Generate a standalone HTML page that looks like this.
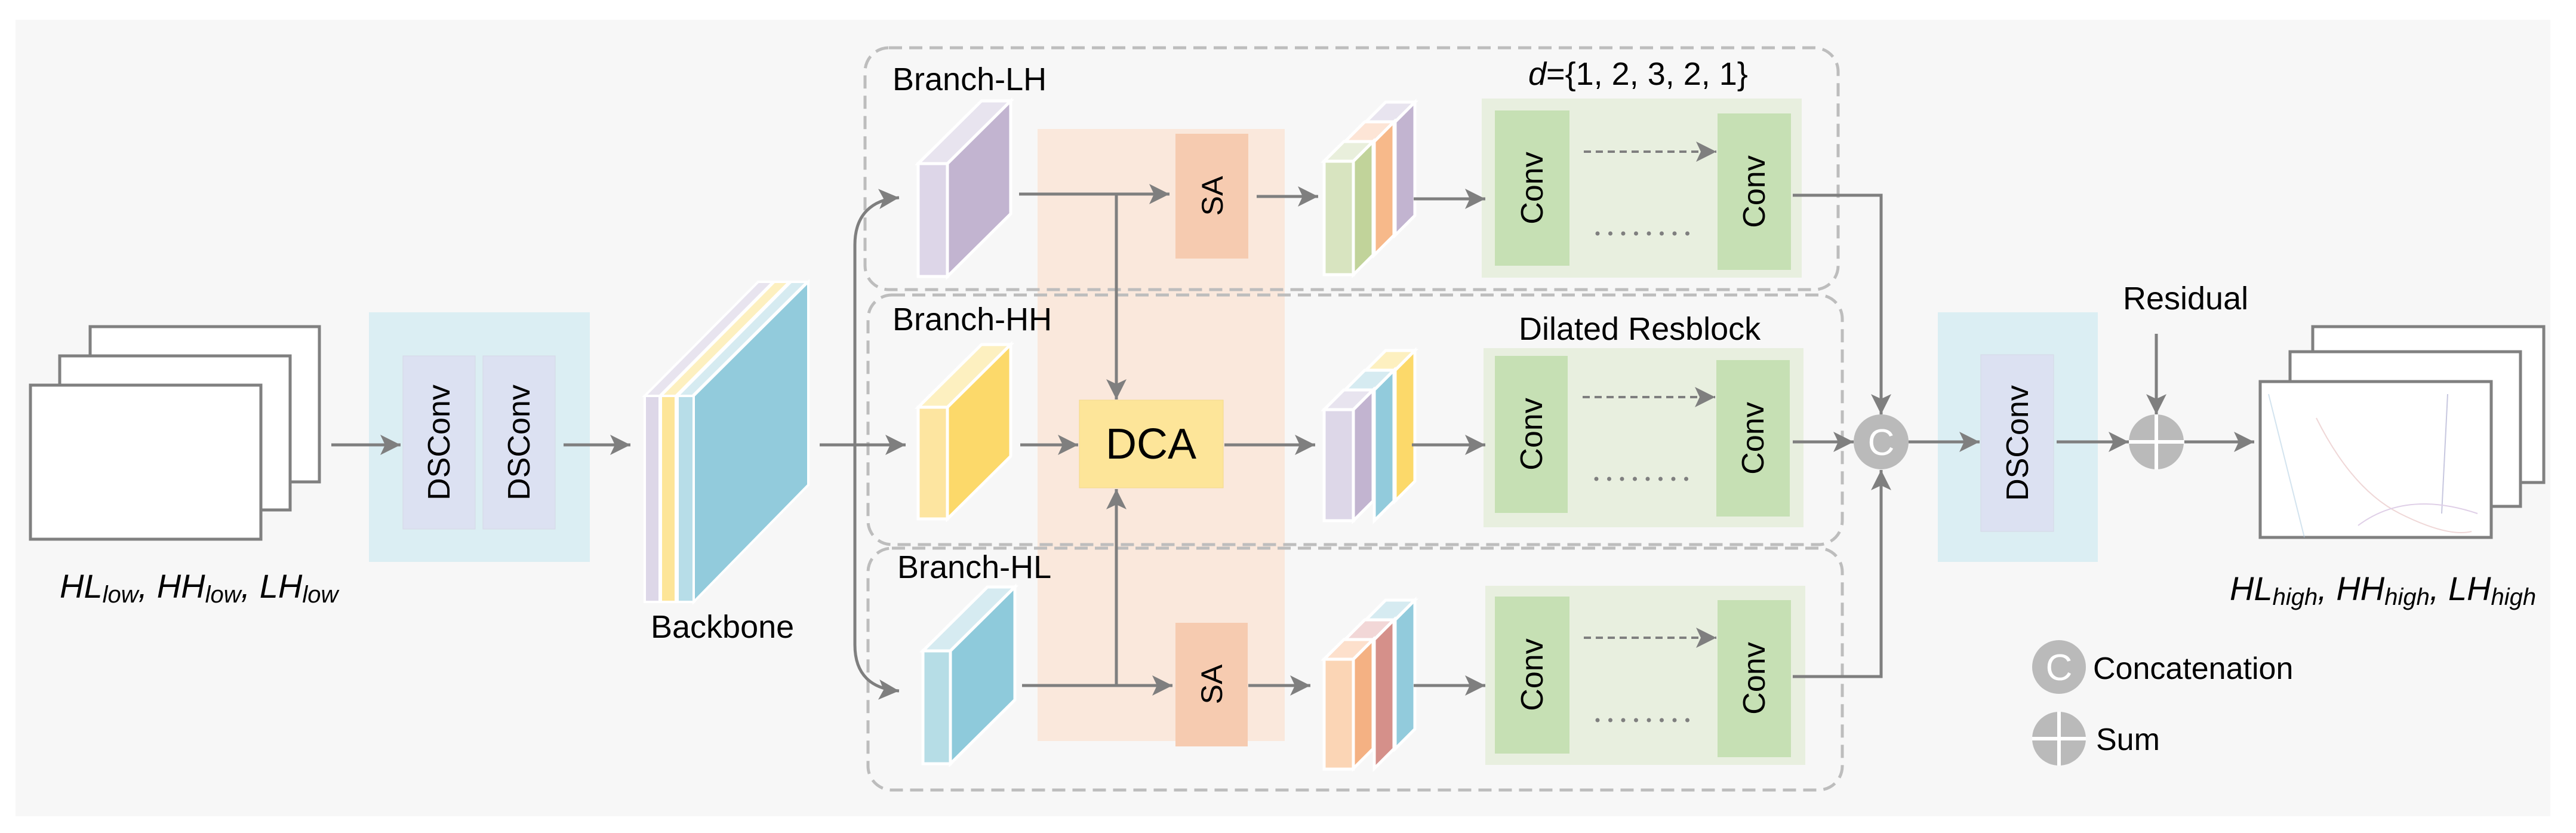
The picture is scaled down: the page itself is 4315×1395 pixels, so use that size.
<!DOCTYPE html>
<html><head><meta charset="utf-8"><style>
html,body{margin:0;padding:0;background:#fff;}
svg{display:block;}
text{font-family:"Liberation Sans",sans-serif;fill:#000;}
</style></head><body>
<svg width="4315" height="1395" viewBox="0 0 4315 1395" xmlns="http://www.w3.org/2000/svg">
<defs>
<marker id="ah" markerUnits="userSpaceOnUse" markerWidth="40" markerHeight="40" refX="34" refY="18" orient="auto">
<path d="M34,18 L0,1 L8,18 L0,35 Z" fill="#7f7f7f"/>
</marker>
</defs>
<rect x="26" y="33" width="4246" height="1334" fill="#f7f7f7"/>

<!-- input stack -->
<g fill="#fff" stroke="#808080" stroke-width="5">
<rect x="151" y="547" width="384" height="260"/>
<rect x="100" y="596" width="386" height="258"/>
<rect x="51" y="645" width="386" height="258"/>
</g>
<text x="100" y="1001" font-size="56" font-style="italic">HL<tspan font-size="40" dy="8">low</tspan><tspan dy="-8">, HH</tspan><tspan font-size="40" dy="8">low</tspan><tspan dy="-8">, LH</tspan><tspan font-size="40" dy="8">low</tspan></text>

<!-- DSConv block 1 -->
<rect x="618" y="523" width="370" height="418" fill="#dbeef3"/>
<rect x="675" y="596" width="121" height="290" fill="#dce1f2" stroke="#d4d8e6" stroke-width="1"/>
<rect x="809" y="596" width="121" height="290" fill="#dce1f2" stroke="#d4d8e6" stroke-width="1"/>
<text transform="translate(753,741) rotate(-90)" font-size="52" text-anchor="middle">DSConv</text>
<text transform="translate(887,741) rotate(-90)" font-size="52" text-anchor="middle">DSConv</text>

<!-- Backbone -->
<g stroke="#fff" stroke-width="4">
<polygon points="1080,663 1105,663 1295,472 1270,472" fill="#e8e4ef"/>
<polygon points="1107,663 1132,663 1322,472 1297,472" fill="#fdf0c0"/>
<polygon points="1135,663 1160,663 1352,472 1325,472" fill="#d6ebf1"/>
<rect x="1080" y="663" width="25" height="345" fill="#ddd7e8"/>
<rect x="1107" y="663" width="25" height="345" fill="#fde598"/>
<rect x="1135" y="663" width="27" height="345" fill="#b7dde8"/>
<polygon points="1162,663 1354,472 1354,812 1162,1008" fill="#92cbdc"/>
</g>
<text x="1090" y="1068" font-size="54">Backbone</text>

<!-- orange band -->
<rect x="1738" y="216" width="414" height="1025" fill="#fae8dc"/>

<!-- branch boxes -->
<g fill="none" stroke="#bdbdbd" stroke-width="5" stroke-dasharray="22,12">
<rect x="1449" y="80" width="1630" height="405" rx="40"/>
<rect x="1454" y="494" width="1632" height="418" rx="40"/>
<rect x="1454" y="918" width="1632" height="405" rx="40"/>
</g>
<text x="1495" y="151" font-size="54">Branch-LH</text>
<text x="1495" y="553" font-size="54">Branch-HH</text>
<text x="1503" y="968" font-size="54">Branch-HL</text>

<!-- cubes -->
<g stroke="#fff" stroke-width="5">
<polygon points="1538,274 1587,274 1693,169 1644,169" fill="#e8e4ef"/>
<rect x="1538" y="274" width="49" height="189" fill="#ddd6e8"/>
<polygon points="1587,274 1693,169 1693,358 1587,463" fill="#c2b4d0"/>

<polygon points="1538,682 1587,682 1693,577 1644,577" fill="#fdf0c0"/>
<rect x="1538" y="682" width="49" height="187" fill="#fde5a0"/>
<polygon points="1587,682 1693,577 1693,764 1587,869" fill="#fcd96a"/>

<polygon points="1546,1090 1592,1090 1700,983 1654,983" fill="#d6ebf1"/>
<rect x="1546" y="1090" width="46" height="189" fill="#b6dde6"/>
<polygon points="1592,1090 1700,983 1700,1172 1592,1279" fill="#8ecadb"/>
</g>

<!-- SA/DCA -->
<rect x="1969" y="224" width="122" height="209" fill="#f6cbb0"/>
<text transform="translate(2048,328) rotate(-90)" font-size="50" text-anchor="middle">SA</text>
<rect x="1969" y="1043" width="121" height="207" fill="#f6cbb0"/>
<text transform="translate(2047,1146) rotate(-90)" font-size="50" text-anchor="middle">SA</text>
<rect x="1808" y="670" width="241" height="147" fill="#fde599" stroke="#f3d98a" stroke-width="1"/>
<text x="1928" y="768" font-size="72" text-anchor="middle">DCA</text>

<!-- stacks -->
<g stroke="#fff" stroke-width="5">
<polygon points="2288,204 2337,204 2370,171 2321,171" fill="#e8e4ef"/>
<polygon points="2337,204 2370,171 2370,361 2337,394" fill="#c2b4d0"/>
<polygon points="2253,237 2302,237 2335,204 2286,204" fill="#fde5d6"/>
<polygon points="2302,237 2335,204 2335,394 2302,427" fill="#f7b98a"/>
<polygon points="2218,270 2267,270 2300,237 2251,237" fill="#e9efdc"/>
<rect x="2218" y="270" width="49" height="190" fill="#d8e4c0"/>
<polygon points="2267,270 2300,237 2300,427 2267,460" fill="#c1d39a"/>

<polygon points="2288,620 2337,620 2370,587 2321,587" fill="#fdf0c0"/>
<polygon points="2337,620 2370,587 2370,806 2337,839" fill="#fcd96a"/>
<polygon points="2253,653 2302,653 2335,620 2286,620" fill="#d6ebf1"/>
<polygon points="2302,653 2335,620 2335,839 2302,872" fill="#92cbdc"/>
<polygon points="2218,686 2267,686 2300,653 2251,653" fill="#e8e4ef"/>
<rect x="2218" y="686" width="49" height="186" fill="#ddd7e8"/>
<polygon points="2267,686 2300,653 2300,839 2267,872" fill="#c2b4d0"/>

<polygon points="2288,1038 2337,1038 2370,1005 2321,1005" fill="#d6ebf1"/>
<polygon points="2337,1038 2370,1005 2370,1221 2337,1254" fill="#92cbdc"/>
<polygon points="2253,1071 2302,1071 2335,1038 2286,1038" fill="#f2d7d7"/>
<polygon points="2302,1071 2335,1038 2335,1254 2302,1287" fill="#d5908a"/>
<polygon points="2218,1104 2267,1104 2300,1071 2251,1071" fill="#fde0cc"/>
<rect x="2218" y="1104" width="49" height="184" fill="#fbd5b5"/>
<polygon points="2267,1104 2300,1071 2300,1254 2267,1287" fill="#f4b183"/>
</g>

<!-- green blocks -->
<g>
<rect x="2482" y="165" width="536" height="300" fill="#e8efdf"/>
<rect x="2504" y="185" width="125" height="260" fill="#c6e0b4"/>
<rect x="2877" y="190" width="123" height="262" fill="#c6e0b4"/>
<rect x="2485" y="583" width="536" height="300" fill="#e8efdf"/>
<rect x="2504" y="596" width="122" height="263" fill="#c6e0b4"/>
<rect x="2875" y="603" width="123" height="262" fill="#c6e0b4"/>
<rect x="2488" y="981" width="536" height="300" fill="#e8efdf"/>
<rect x="2504" y="999" width="125" height="263" fill="#c6e0b4"/>
<rect x="2877" y="1005" width="123" height="263" fill="#c6e0b4"/>
</g>
<g font-size="52" text-anchor="middle">
<text transform="translate(2584,315) rotate(-90)">Conv</text>
<text transform="translate(2956,321) rotate(-90)">Conv</text>
<text transform="translate(2583,727) rotate(-90)">Conv</text>
<text transform="translate(2954,734) rotate(-90)">Conv</text>
<text transform="translate(2584,1130) rotate(-90)">Conv</text>
<text transform="translate(2956,1136) rotate(-90)">Conv</text>
</g>
<g stroke="#7f7f7f" stroke-width="4" fill="none" stroke-dasharray="12,8" marker-end="url(#ah)">
<line x1="2653" y1="254" x2="2875" y2="254"/>
<line x1="2651" y1="665" x2="2873" y2="665"/>
<line x1="2653" y1="1068" x2="2875" y2="1068"/>
</g>
<g stroke="#7f7f7f" stroke-width="7" stroke-linecap="round" stroke-dasharray="0,21.5">
<line x1="2676" y1="391" x2="2848" y2="391"/>
<line x1="2674" y1="802" x2="2846" y2="802"/>
<line x1="2676" y1="1206" x2="2848" y2="1206"/>
</g>
<text x="2560" y="142" font-size="54"><tspan font-style="italic">d</tspan>={1, 2, 3, 2, 1}</text>
<text x="2544" y="569" font-size="54">Dilated Resblock</text>

<!-- right side blocks -->
<rect x="3246" y="523" width="268" height="418" fill="#dbeef3"/>
<rect x="3318" y="594" width="122" height="296" fill="#dce1f2" stroke="#d4d8e6" stroke-width="1"/>
<text transform="translate(3397,742) rotate(-90)" font-size="52" text-anchor="middle">DSConv</text>
<text x="3556" y="518" font-size="54">Residual</text>

<!-- output stack -->
<g fill="#fff" stroke="#808080" stroke-width="5">
<rect x="3874" y="547" width="387" height="261"/>
<rect x="3836" y="589" width="386" height="259"/>
<rect x="3786" y="639" width="387" height="261"/>
</g>
<g stroke-width="2" fill="none" opacity="0.5">
<path d="M3800,660 l60,240" stroke="#a8c8e0"/>
<path d="M3880,700 q60,120 140,160 t120,30" stroke="#e0b0b0"/>
<path d="M4100,660 l-10,200" stroke="#9090c0"/>
<path d="M3950,880 q80,-60 200,-20" stroke="#c0a0d0"/>
</g>
<text x="3735" y="1005" font-size="56" font-style="italic">HL<tspan font-size="40" dy="8">high</tspan><tspan dy="-8">, HH</tspan><tspan font-size="40" dy="8">high</tspan><tspan dy="-8">, LH</tspan><tspan font-size="40" dy="8">high</tspan></text>

<!-- all connectors on top -->
<g stroke="#7f7f7f" stroke-width="5" fill="none" marker-end="url(#ah)">
<line x1="555" y1="745" x2="671" y2="745"/>
<line x1="944" y1="745" x2="1056" y2="745"/>
<line x1="1373" y1="745" x2="1517" y2="745"/>
<path d="M1432,745 L1432,410 C1432,360 1460,334 1506,331"/>
<path d="M1432,745 L1432,1080 C1432,1130 1460,1154 1506,1157"/>
<line x1="1707" y1="325" x2="1959" y2="325"/>
<line x1="1870" y1="325" x2="1870" y2="669"/>
<line x1="1709" y1="745" x2="1806" y2="745"/>
<line x1="1712" y1="1148" x2="1964" y2="1148"/>
<line x1="1870" y1="1148" x2="1870" y2="819"/>
<line x1="2105" y1="329" x2="2208" y2="329"/>
<line x1="2051" y1="745" x2="2203" y2="745"/>
<line x1="2091" y1="1148" x2="2195" y2="1148"/>
<line x1="2368" y1="333" x2="2488" y2="333"/>
<line x1="2365" y1="745" x2="2488" y2="745"/>
<line x1="2368" y1="1148" x2="2488" y2="1148"/>
<polyline points="3003,327 3151,327 3151,694"/>
<polyline points="3003,1133 3151,1133 3151,787"/>
<line x1="3003" y1="740" x2="3105" y2="740"/>
<line x1="3197" y1="740" x2="3316" y2="740"/>
<line x1="3445" y1="740" x2="3566" y2="740"/>
<line x1="3612" y1="559" x2="3612" y2="694"/>
<line x1="3659" y1="740" x2="3776" y2="740"/>
</g>

<ellipse cx="3151" cy="740" rx="46" ry="46" fill="#bababa"/>
<text x="3151" y="762" font-size="62" text-anchor="middle" style="fill:#fff">C</text>
<circle cx="3612" cy="740" r="46" fill="#bababa"/>
<g stroke="#fff" stroke-width="6"><line x1="3566" y1="740" x2="3658" y2="740"/><line x1="3612" y1="694" x2="3612" y2="786"/></g>

<!-- legend -->
<circle cx="3449" cy="1117" r="45" fill="#bababa"/>
<text x="3449" y="1139" font-size="62" text-anchor="middle" style="fill:#fff">C</text>
<text x="3506" y="1137" font-size="52">Concatenation</text>
<circle cx="3449" cy="1237" r="45" fill="#bababa"/>
<g stroke="#fff" stroke-width="6"><line x1="3404" y1="1237" x2="3494" y2="1237"/><line x1="3449" y1="1192" x2="3449" y2="1282"/></g>
<text x="3511" y="1256" font-size="52">Sum</text>
</svg>
</body></html>
